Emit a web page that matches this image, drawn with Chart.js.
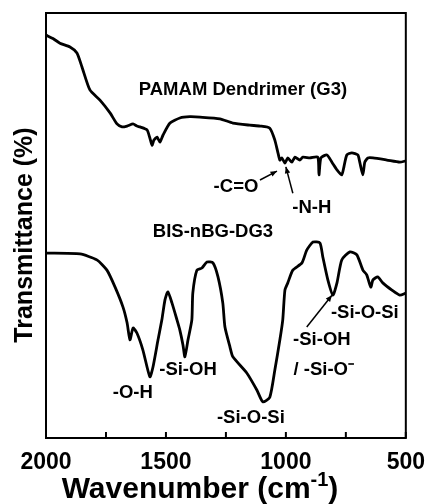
<!DOCTYPE html>
<html>
<head>
<meta charset="utf-8">
<script src="https://cdn.jsdelivr.net/npm/chart.js@4.4.1/dist/chart.umd.min.js"></script>
<style>
  html, body { margin: 0; padding: 0; background: #fff; }
</style>
</head>
<body>
<canvas id="grafico" width="428" height="504"></canvas>
<script>
// ------------ Dados ------------
const pamamWave = [2000, 1971, 1942, 1900, 1871, 1850, 1817, 1775, 1733, 1704, 1683, 1662, 1637, 1621, 1608, 1579, 1567, 1558, 1550, 1537, 1525, 1512, 1483, 1442, 1400, 1358, 1275, 1221, 1150, 1108, 1067, 1046, 1033, 1025, 1017, 1004, 992, 975, 962, 942, 929, 900, 867, 862, 854, 829, 808, 787, 767, 758, 746, 725, 700, 692, 679, 671, 658, 637, 579, 525, 500];
const pamamT = [94.8, 94.0, 92.9, 92.0, 90.6, 87.3, 81.9, 79.5, 76.5, 73.9, 73.2, 73.4, 73.9, 73.4, 73.2, 72.5, 70.6, 68.9, 70.1, 70.8, 69.6, 71.3, 74.1, 75.3, 75.6, 75.5, 75.1, 74.1, 73.6, 73.4, 72.9, 70.1, 67.1, 65.4, 65.9, 64.7, 65.9, 64.9, 66.1, 65.4, 66.1, 65.9, 66.1, 61.9, 65.9, 66.6, 64.9, 63.1, 61.9, 63.8, 66.6, 67.1, 66.6, 64.9, 61.9, 64.9, 65.9, 65.9, 65.4, 64.9, 65.2];

const bisWave = [2000, 1858, 1788, 1746, 1712, 1679, 1662, 1650, 1637, 1621, 1596, 1567, 1554, 1533, 1517, 1504, 1492, 1475, 1454, 1442, 1429, 1421, 1408, 1392, 1388, 1371, 1350, 1329, 1304, 1283, 1263, 1254, 1233, 1221, 1163, 1121, 1096, 1067, 1046, 1025, 1013, 1004, 992, 971, 933, 913, 887, 858, 846, 825, 804, 787, 767, 733, 704, 679, 663, 646, 637, 617, 596, 558, 525, 500];
const bisT = [43.5, 43.3, 41.9, 39.5, 35.5, 30.8, 27.1, 23.1, 25.9, 24.7, 20.7, 14.4, 16.7, 23.1, 27.8, 32.5, 34.4, 31.8, 27.8, 25.4, 21.9, 19.1, 23.1, 27.8, 34.1, 39.5, 40.0, 41.4, 41.2, 37.9, 31.8, 26.1, 21.4, 19.1, 15.3, 11.3, 8.5, 9.6, 16.0, 23.1, 27.8, 34.8, 36.5, 39.5, 41.2, 44.2, 46.1, 45.9, 42.6, 37.2, 33.6, 36.5, 41.9, 43.8, 43.1, 39.5, 38.4, 35.5, 37.2, 37.9, 36.5, 34.8, 33.6, 34.1];

const tickValues = [2000, 1750, 1500, 1250, 1000, 750, 500];
const tickLabels = ['2000', '', '1500', '', '1000', '', '500'];

// rótulos das bandas (posição em número de onda / transmitância)
const noteTexts = ['PAMAM Dendrimer (G3)', 'BIS-nBG-DG3', '-C=O', '-N-H', '-Si-O-Si', '-Si-OH', '/ -Si-O\u207B', '-O-H', '-Si-OH', '-Si-O-Si'];
const noteWave = [1179, 1304, 1208, 892, 671, 850, 842, 1638, 1408, 1146];
const noteT = [81.9, 48.5, 59.1, 54.1, 29.4, 23.1, 16.0, 10.6, 16.0, 4.7];

// setas: [onda inicial, T inicial, onda final, T final]
const arrows = [
  [1108, 60.7, 1037, 62.8],
  [971, 57.6, 1000, 63.8],
  [913, 26.1, 808, 33.6]
];

function pontos(ondas, valores) {
  return ondas.map((w, i) => ({ x: w, y: valores[i] }));
}

// ------------ Desenho extra: moldura, ticks internos, textos ------------
const extras = {
  id: 'extras',
  afterDraw(chart) {
    const ctx = chart.ctx;
    const area = chart.chartArea;
    const xs = chart.scales.x;
    const ys = chart.scales.y;
    ctx.save();

    ctx.strokeStyle = '#000';
    ctx.lineWidth = 2;
    ctx.strokeRect(area.left, area.top, area.right - area.left, area.bottom - area.top);

    tickValues.forEach(v => {
      const px = xs.getPixelForValue(v);
      ctx.beginPath();
      ctx.moveTo(px, area.bottom);
      ctx.lineTo(px, area.bottom - 6);
      ctx.stroke();
    });

    ctx.fillStyle = '#000';
    ctx.textAlign = 'center';
    ctx.textBaseline = 'middle';
    noteTexts.forEach((t, i) => {
      ctx.font = 'bold 18.5px "Liberation Sans", Arial, sans-serif';
      ctx.fillText(t, xs.getPixelForValue(noteWave[i]), ys.getPixelForValue(noteT[i]));
    });

    ctx.lineWidth = 1.5;
    arrows.forEach(a => {
      const x1 = xs.getPixelForValue(a[0]), y1 = ys.getPixelForValue(a[1]);
      const x2 = xs.getPixelForValue(a[2]), y2 = ys.getPixelForValue(a[3]);
      const ang = Math.atan2(y2 - y1, x2 - x1);
      ctx.beginPath();
      ctx.moveTo(x1, y1);
      ctx.lineTo(x2, y2);
      ctx.stroke();
      ctx.beginPath();
      ctx.moveTo(x2, y2);
      ctx.lineTo(x2 - 7 * Math.cos(ang - 0.4), y2 - 7 * Math.sin(ang - 0.4));
      ctx.lineTo(x2 - 7 * Math.cos(ang + 0.4), y2 - 7 * Math.sin(ang + 0.4));
      ctx.closePath();
      ctx.fill();
    });

    // título do eixo y
    ctx.save();
    ctx.translate(25, 235);
    ctx.rotate(-Math.PI / 2);
    ctx.font = 'bold 25px "Liberation Sans", Arial, sans-serif';
    ctx.fillText('Transmittance (%)', 0, 0);
    ctx.restore();

    // título do eixo x com expoente
    ctx.textBaseline = 'alphabetic';
    ctx.textAlign = 'left';
    const base = 'Wavenumber (cm';
    const fonteG = 'bold 30px "Liberation Sans", Arial, sans-serif';
    const fonteP = 'bold 20px "Liberation Sans", Arial, sans-serif';
    ctx.font = fonteG;
    const w1 = ctx.measureText(base).width;
    const w3 = ctx.measureText(')').width;
    ctx.font = fonteP;
    const w2 = ctx.measureText('-1').width;
    let x0 = 200 - (w1 + w2 + w3) / 2;
    ctx.font = fonteG;
    ctx.fillText(base, x0, 498);
    ctx.font = fonteP;
    ctx.fillText('-1', x0 + w1, 486);
    ctx.font = fonteG;
    ctx.fillText(')', x0 + w1 + w2, 498);

    ctx.restore();
  }
};

// ------------ Gráfico ------------
const grafico = new Chart(document.getElementById('grafico'), {
  type: 'line',
  data: {
    datasets: [
      { label: 'PAMAM Dendrimer (G3)', data: pontos(pamamWave, pamamT) },
      { label: 'BIS-nBG-DG3', data: pontos(bisWave, bisT) }
    ]
  },
  options: {
    responsive: false,
    animation: false,
    layout: { padding: { left: 46, right: 22, top: 13, bottom: 0 } },
    elements: {
      line: { borderColor: '#000', borderWidth: 2.8, tension: 0.2, fill: false },
      point: { radius: 0 }
    },
    plugins: { legend: { display: false }, tooltip: { enabled: false } },
    scales: {
      x: {
        type: 'linear',
        min: 500,
        max: 2000,
        reverse: true,
        afterBuildTicks: s => { s.ticks = tickValues.map(v => ({ value: v })); },
        afterFit: s => { s.height = 66; },
        grid: { display: false },
        border: { display: false },
        ticks: {
          autoSkip: false,
          maxRotation: 0,
          padding: 3,
          color: '#000',
          font: { family: '"Liberation Sans", Arial, sans-serif', size: 23, weight: 'bold' },
          callback: v => tickLabels[tickValues.indexOf(v)]
        }
      },
      y: { display: false, min: 0, max: 100 }
    }
  },
  plugins: [extras]
});
</script>
</body>
</html>
